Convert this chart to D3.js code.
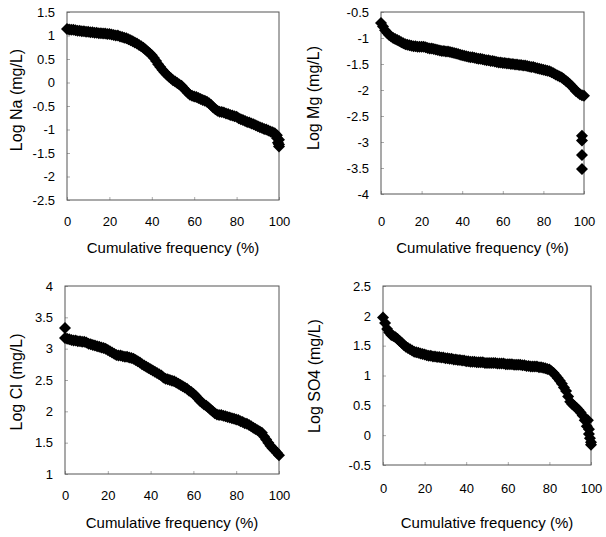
<!DOCTYPE html>
<html>
<head>
<meta charset="utf-8">
<script src="https://cdn.jsdelivr.net/npm/d3@7"></script>
<style>
  body{margin:0;background:#fff;}
  text{font-family:"Liberation Sans",Arial,sans-serif;fill:#000;}
</style>
</head>
<body>
<div id="chart"></div>
<script>
//cumulative frequency (%) shared by the four panels
var freq = [0,1,2,3,4,5,6,7,8,9,10,11,12,13,14,15,16,17,18,19,20,21,22,23,24,25,26,27,28,29,
  30,31,32,33,34,35,36,37,38,39,40,41,42,43,44,45,46,47,48,49,50,51,52,53,54,55,56,57,58,59,
  60,61,62,63,64,65,66,67,68,69,70,71,72,73,74,75,76,77,78,79,80,81,82,83,84,85,86,87,88,89,
  90,91,92,93,94,95,96,97,98,99,100]

//log Na (mg/L)
var na_vals = [1.14,1.13,1.12,1.12,1.11,1.10,1.10,1.09,1.09,1.08,1.08,1.07,1.07,1.06,1.06,1.05,
  1.05,1.04,1.04,1.03,1.03,1.02,1.01,1.00,1.00,0.98,0.97,0.95,0.94,0.92,0.90,0.88,0.85,0.83,
  0.80,0.77,0.74,0.70,0.66,0.62,0.58,0.52,0.46,0.39,0.33,0.27,0.22,0.17,0.13,0.09,0.05,0.02,
  -0.01,-0.04,-0.07,-0.12,-0.17,-0.22,-0.26,-0.28,-0.30,-0.31,-0.33,-0.35,-0.37,-0.39,-0.41,
  -0.44,-0.48,-0.53,-0.57,-0.60,-0.62,-0.63,-0.64,-0.66,-0.67,-0.69,-0.70,-0.72,-0.73,-0.76,
  -0.78,-0.80,-0.82,-0.84,-0.85,-0.87,-0.89,-0.91,-0.93,-0.95,-0.97,-0.99,-1.00,-1.02,-1.04,
  -1.06,-1.08,-1.12,-1.22]
var na_tail_x = [99,99.5,100,100]
var na_tail_y = [-1.18,-1.28,-1.36,-1.32]

//log Mg (mg/L)
var mg_vals = [-0.71,-0.78,-0.85,-0.90,-0.94,-0.97,-1.00,-1.02,-1.04,-1.06,-1.08,-1.10,-1.12,
  -1.13,-1.14,-1.15,-1.16,-1.16,-1.17,-1.17,-1.17,-1.17,-1.18,-1.19,-1.20,-1.20,-1.21,-1.22,
  -1.23,-1.24,-1.25,-1.25,-1.26,-1.26,-1.27,-1.28,-1.29,-1.30,-1.31,-1.32,-1.33,-1.34,-1.35,
  -1.36,-1.37,-1.37,-1.38,-1.39,-1.40,-1.40,-1.41,-1.42,-1.43,-1.43,-1.44,-1.44,-1.45,-1.46,
  -1.47,-1.47,-1.48,-1.48,-1.49,-1.49,-1.50,-1.50,-1.51,-1.51,-1.52,-1.52,-1.53,-1.53,-1.54,
  -1.55,-1.56,-1.56,-1.57,-1.58,-1.59,-1.60,-1.61,-1.62,-1.63,-1.64,-1.66,-1.68,-1.70,-1.72,
  -1.74,-1.76,-1.79,-1.82,-1.85,-1.89,-1.93,-1.97,-2.02,-2.05,-2.08,-2.10,-2.11]
var mg_tail_x = [99,99,99,99]
var mg_tail_y = [-2.88,-2.97,-3.25,-3.52]

//log Cl (mg/L)
var cl_vals = [3.17,3.16,3.15,3.14,3.13,3.13,3.12,3.12,3.11,3.11,3.10,3.08,3.07,3.06,3.05,3.04,
  3.03,3.02,3.01,3.00,2.98,2.96,2.94,2.92,2.90,2.89,2.89,2.88,2.87,2.87,2.86,2.85,2.84,2.82,
  2.80,2.78,2.75,2.73,2.71,2.69,2.67,2.65,2.63,2.61,2.59,2.57,2.54,2.52,2.51,2.50,2.49,2.48,
  2.46,2.44,2.42,2.40,2.38,2.36,2.33,2.31,2.28,2.25,2.21,2.17,2.14,2.11,2.09,2.06,2.03,2.00,
  1.97,1.95,1.94,1.94,1.93,1.92,1.91,1.90,1.89,1.88,1.87,1.86,1.84,1.83,1.81,1.80,1.78,1.76,
  1.74,1.72,1.70,1.68,1.66,1.60,1.55,1.50,1.45,1.41,1.38,1.34,1.30]
var cl_tail_x = [0]
var cl_tail_y = [3.33]

//log SO4 (mg/L)
var so4_vals = [1.97,1.88,1.78,1.72,1.68,1.66,1.64,1.61,1.58,1.55,1.51,1.48,1.46,1.44,1.42,1.40,
  1.39,1.38,1.37,1.36,1.35,1.34,1.33,1.33,1.32,1.32,1.31,1.31,1.30,1.30,1.29,1.29,1.28,1.28,
  1.27,1.27,1.26,1.26,1.25,1.25,1.24,1.24,1.23,1.23,1.23,1.22,1.22,1.22,1.22,1.21,1.21,1.21,
  1.21,1.21,1.21,1.20,1.20,1.20,1.20,1.19,1.19,1.19,1.19,1.18,1.18,1.18,1.18,1.17,1.17,1.16,
  1.16,1.15,1.15,1.15,1.15,1.14,1.14,1.13,1.12,1.11,1.10,1.07,1.04,1.00,0.96,0.91,0.86,0.80,
  0.74,0.65,0.56,0.52,0.49,0.46,0.42,0.38,0.33,0.25,0.15,0.02,-0.12]
var so4_tail_x = [98.5,99,99.5,100]
var so4_tail_y = [0.25,0.10,-0.05,-0.16]

//tick labels
var x_ticks = [0,20,40,60,80,100]
var na_ticks = [-2.5,-2,-1.5,-1,-0.5,0,0.5,1,1.5]
var mg_ticks = [-4,-3.5,-3,-2.5,-2,-1.5,-1,-0.5]
var cl_ticks = [1,1.5,2,2.5,3,3.5,4]
var so4_ticks = [-0.5,0,0.5,1,1.5,2,2.5]

var x_title = "Cumulative frequency (%)"

//panel layout (pixels)
var panels = [
  {vals:na_vals, tx:na_tail_x, ty:na_tail_y, ticks:na_ticks, title:"Log Na (mg/L)",
   x0:67, x1:279, y0:12, y1:200, xpad:17, xbase:253, ytx:22, ytc:100},
  {vals:mg_vals, tx:mg_tail_x, ty:mg_tail_y, ticks:mg_ticks, title:"Log Mg (mg/L)",
   x0:381, x1:584, y0:12, y1:194, xpad:23, xbase:253, ytx:319, ytc:98},
  {vals:cl_vals, tx:cl_tail_x, ty:cl_tail_y, ticks:cl_ticks, title:"Log Cl (mg/L)",
   x0:65, x1:279, y0:286, y1:474, xpad:17, xbase:528, ytx:22, ytc:382},
  {vals:so4_vals, tx:so4_tail_x, ty:so4_tail_y, ticks:so4_ticks, title:"Log SO4 (mg/L)",
   x0:383, x1:591, y0:286, y1:465, xpad:19, xbase:528, ytx:320, ytc:376}
]

var svg = d3.select("#chart").append("svg")
  .attr("width", 606)
  .attr("height", 537)

//diamond marker like excel
var diamond = function(r){
  return "M0,"+(-r)+"L"+r+",0L0,"+r+"L"+(-r)+",0Z"
}

panels.forEach(function(p){
  var x = d3.scaleLinear().domain([0,100]).range([p.x0, p.x1])
  var y = d3.scaleLinear().domain(d3.extent(p.ticks)).range([p.y1, p.y0])

  //points: regular series + extra points at the ends
  var pts = freq.map(function(f, i){ return [f, p.vals[i]] })
  p.tx.forEach(function(f, i){ pts.push([f, p.ty[i]]) })

  //y axis, small ticks inside the frame
  var ya = svg.append("g")
    .attr("transform", "translate("+p.x0+",0)")
    .call(d3.axisLeft(y).tickValues(p.ticks).tickSize(-3).tickPadding(12)
      .tickFormat(function(d){ return String(d) }))
  //x axis
  var xa = svg.append("g")
    .attr("transform", "translate(0,"+p.y1+")")
    .call(d3.axisBottom(x).tickValues(x_ticks).tickSize(-3).tickPadding(p.xpad)
      .tickFormat(function(d){ return String(d) }))

  svg.selectAll(".domain").remove()
  ya.selectAll("line").attr("stroke", "#aaa")
  xa.selectAll("line").attr("stroke", "#aaa")
  ya.selectAll("text").style("font-size", "13px").attr("fill", "#000")
  xa.selectAll("text").style("font-size", "13px").attr("fill", "#000")

  //plot frame
  svg.append("rect")
    .attr("x", p.x0).attr("y", p.y0)
    .attr("width", p.x1-p.x0)
    .attr("height", p.y1-p.y0)
    .style("fill", "none")
    .style("stroke", "#555")
    .style("stroke-width", 1)

  //markers
  svg.append("g").selectAll("path")
    .data(pts).enter()
    .append("path")
    .attr("d", diamond(6))
    .attr("transform", function(d){ return "translate("+x(d[0])+","+y(d[1])+")" })
    .style("fill", "#000")

  //axis titles
  svg.append("text")
    .attr("x", (p.x0+p.x1)/2)
    .attr("y", p.xbase)
    .attr("text-anchor", "middle")
    .style("font-size", "15px")
    .text(x_title)

  svg.append("text")
    .attr("transform", "translate("+p.ytx+","+p.ytc+") rotate(-90)")
    .attr("text-anchor", "middle")
    .style("font-size", "16px")
    .text(p.title)
})
</script>
</body>
</html>
